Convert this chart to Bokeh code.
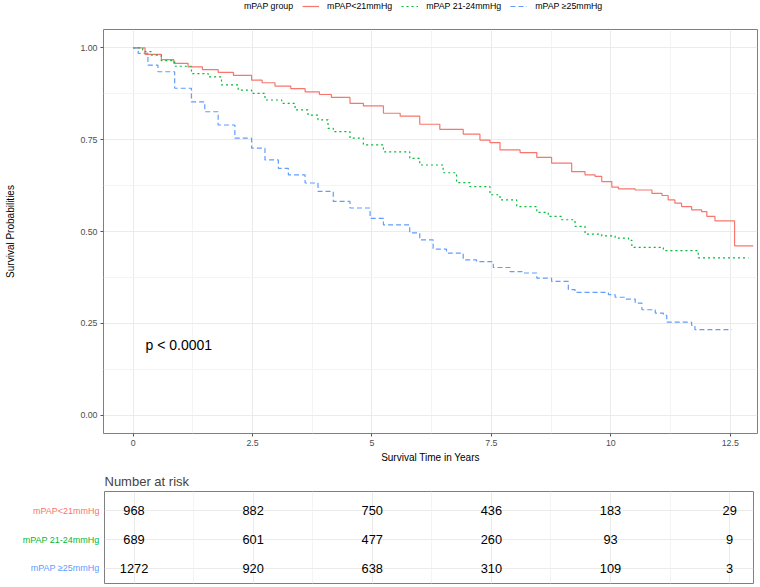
from bokeh.plotting import figure
from bokeh.models import (Range1d, FixedTicker, Legend, LegendItem, NumeralTickFormatter)
from bokeh.layouts import column, row
from bokeh.core.properties import value
from bokeh.embed import file_html
from bokeh.resources import INLINE

FONT = "Liberation Sans"
NAN = float("nan")

# ---------------- data ----------------
legend_title = "mPAP group"
groups = ["mPAP<21mmHg", "mPAP 21-24mmHg", "mPAP ≥25mmHg"]
colors = ["#F8766D", "#00BA38", "#619CFF"]
dashes = ["solid", "2 3", "5 3"]

t_low = [0, 0.25, 0.59, 0.85, 1.15, 1.45, 1.78, 2.1, 2.48, 2.7, 2.97, 3.3, 3.6, 3.9, 4.15,
         4.54, 4.82, 5.24, 5.59, 6.0, 6.42, 6.91, 7.26, 7.47, 7.68, 8.1, 8.45, 8.76, 9.18,
         9.46, 9.67, 9.81, 10.02, 10.16, 10.51, 10.86, 11.07, 11.2, 11.34, 11.48, 11.69,
         11.9, 12.01, 12.18, 12.59, 12.98]
s_low = [1.0, 0.982, 0.968, 0.958, 0.948, 0.941, 0.933, 0.925, 0.912, 0.905, 0.896, 0.889,
         0.880, 0.873, 0.865, 0.849, 0.842, 0.822, 0.814, 0.792, 0.778, 0.765, 0.749, 0.742,
         0.722, 0.715, 0.702, 0.686, 0.663, 0.654, 0.650, 0.636, 0.621, 0.616, 0.613, 0.604,
         0.598, 0.586, 0.577, 0.568, 0.559, 0.554, 0.541, 0.529, 0.461, 0.461]

t_mid = [0, 0.2, 0.385, 0.59, 0.87, 1.22, 1.57, 1.85, 2.2, 2.48, 2.76, 3.11, 3.39, 3.66,
         3.87, 4.08, 4.19, 4.54, 4.82, 5.24, 5.79, 6.0, 6.49, 6.77, 7.05, 7.47, 7.68, 8.03,
         8.45, 8.69, 8.97, 9.25, 9.46, 9.81, 10.09, 10.37, 10.44, 11.1, 11.83, 12.88]
s_mid = [1.0, 0.99, 0.980, 0.965, 0.950, 0.930, 0.921, 0.899, 0.885, 0.876, 0.858, 0.849,
         0.831, 0.817, 0.804, 0.781, 0.772, 0.754, 0.736, 0.717, 0.699, 0.681, 0.660, 0.633,
         0.622, 0.600, 0.586, 0.568, 0.552, 0.541, 0.532, 0.514, 0.493, 0.488, 0.482, 0.476,
         0.457, 0.448, 0.428, 0.428]

t_high = [0, 0.105, 0.31, 0.52, 0.87, 1.22, 1.5, 1.78, 2.13, 2.48, 2.76, 3.04, 3.25, 3.6,
          3.87, 4.19, 4.54, 4.96, 5.24, 5.79, 6.0, 6.28, 6.56, 6.91, 7.19, 7.54, 7.89, 8.17,
          8.45, 8.76, 9.11, 9.25, 9.95, 10.09, 10.30, 10.51, 10.65, 10.93, 11.1, 11.17,
          11.69, 11.76, 12.53]
s_high = [1.0, 0.985, 0.953, 0.935, 0.890, 0.853, 0.826, 0.790, 0.754, 0.727, 0.695, 0.672,
          0.654, 0.632, 0.609, 0.582, 0.564, 0.536, 0.518, 0.496, 0.477, 0.452, 0.441, 0.423,
          0.418, 0.402, 0.391, 0.387, 0.373, 0.364, 0.342, 0.334, 0.328, 0.321, 0.316, 0.305,
          0.287, 0.278, 0.272, 0.253, 0.244, 0.233, 0.233]

risk_times = [0, 2.5, 5, 7.5, 10, 12.5]
risk_low = [968, 882, 750, 436, 183, 29]
risk_mid = [689, 601, 477, 260, 93, 9]
risk_high = [1272, 920, 638, 310, 109, 3]

x_ticks = [0, 2.5, 5, 7.5, 10, 12.5]
x_minor = [1.25, 3.75, 6.25, 8.75, 11.25]
x_tick_labels = ["0", "2.5", "5", "7.5", "10", "12.5"]
y_ticks = [0, 0.25, 0.5, 0.75, 1.0]
y_minor = [0.125, 0.375, 0.625, 0.875]

pval_text = "p < 0.0001"
pval_pos = (0.26, 0.19)

curves = [(t_low, s_low), (t_mid, s_mid), (t_high, s_high)]
risks = [risk_low, risk_mid, risk_high]

BORDER = "#7F7F7F"
GRID = "#EBEBEB"
GRID_MINOR = "#F4F4F4"
LINE_W = 1.2

# ---------------- legend header ----------------
HDR_H = 14
hdr = figure(width=760, height=HDR_H, x_range=Range1d(0, 760), y_range=Range1d(0, HDR_H),
             output_backend="svg", toolbar_location=None,
             min_border_left=0, min_border_right=0, min_border_top=0, min_border_bottom=0)
hdr.outline_line_color = None
hdr.axis.visible = False
hdr.grid.visible = False
# key renderers: one undrawable (NaN) point each, used only for their legend swatches
title_r = hdr.line(x=[NAN], y=[NAN], line_alpha=0)
items = [LegendItem(label=legend_title, renderers=[title_r])]
for c, d, g in zip(colors, dashes, groups):
    kr = hdr.line(x=[NAN], y=[NAN], line_color=c, line_width=LINE_W, line_dash=d)
    items.append(LegendItem(label=g, renderers=[kr]))
legend = Legend(items=items, orientation="horizontal", location=(116, 3),
                glyph_width=17, glyph_height=10, label_height=10, label_standoff=8,
                spacing=9, padding=0, margin=0, border_line_color=None,
                background_fill_alpha=0, label_text_font=FONT, label_text_font_size="8.8px",
                label_text_color="black")
hdr.add_layout(legend, "center")

# ---------------- main plot ----------------
p = figure(width=760, height=465 - HDR_H, x_range=Range1d(-0.62, 13.07),
           y_range=Range1d(-0.05, 1.05), output_backend="svg", toolbar_location=None,
           min_border_left=103, min_border_right=3, min_border_top=29 - HDR_H,
           min_border_bottom=31)
p.outline_line_color = BORDER
p.outline_line_width = 1
p.background_fill_color = "white"

xt = FixedTicker(ticks=x_ticks, minor_ticks=x_minor)
yt = FixedTicker(ticks=y_ticks, minor_ticks=y_minor)
p.xaxis.ticker = xt
p.yaxis.ticker = yt
p.xgrid.ticker = xt
p.ygrid.ticker = yt
p.xaxis.major_label_overrides = {k: v for k, v in zip(x_ticks, x_tick_labels)}
p.yaxis.formatter = NumeralTickFormatter(format="0.00")

for g in (p.xgrid[0], p.ygrid[0]):
    g.grid_line_color = GRID
    g.grid_line_width = 1
    g.minor_grid_line_color = GRID_MINOR
    g.minor_grid_line_width = 1

for ax in (p.xaxis[0], p.yaxis[0]):
    ax.axis_line_color = None
    ax.major_tick_line_color = "#555555"
    ax.major_tick_in = 0
    ax.major_tick_out = 3
    ax.minor_tick_line_color = None
    ax.major_label_text_font = FONT
    ax.major_label_text_font_size = "8.8px"
    ax.major_label_text_color = "#4D4D4D"
    ax.axis_label_text_font = FONT
    ax.axis_label_text_font_size = "10px"
    ax.axis_label_text_font_style = "normal"
    ax.axis_label_text_color = "black"

p.xaxis.axis_label = "Survival Time in Years"
p.yaxis.axis_label = "Survival Probabilities"
p.xaxis.major_label_standoff = 2
p.xaxis.axis_label_standoff = 3
p.yaxis.major_label_standoff = 2
p.yaxis.axis_label_standoff = 61

for (tt, ss), c, d in zip(curves, colors, dashes):
    p.step(tt, ss, mode="after", line_color=c, line_width=LINE_W, line_dash=d)

p.text(x=[pval_pos[0]], y=[pval_pos[1]], text=[pval_text], text_font=value(FONT),
       text_font_size="14px", text_align="left", text_baseline="middle", text_color="black")

# ---------------- risk table ----------------
row_y = [3, 2, 1]
y_rng = (0.48, 3.66)

lab = figure(width=104, height=122, x_range=Range1d(0, 104), y_range=Range1d(*y_rng),
             output_backend="svg", toolbar_location=None,
             min_border_left=0, min_border_right=0, min_border_top=26, min_border_bottom=4)
lab.outline_line_color = None
lab.axis.visible = False
lab.grid.visible = False
for g, c, yy in zip(groups, colors, row_y):
    lab.text(x=[104], y=[yy], text=[g], text_font=value(FONT), text_font_size="9px",
             text_align="right", text_baseline="middle", text_color=c, x_offset=-5)

t = figure(width=656, height=122, x_range=Range1d(-0.62, 13.0), y_range=Range1d(*y_rng),
           output_backend="svg", toolbar_location=None, title="Number at risk",
           min_border_left=0, min_border_right=7, min_border_top=26, min_border_bottom=4)
t.title.text_font = FONT
t.title.text_font_size = "13px"
t.title.text_font_style = "normal"
t.title.standoff = 6
t.outline_line_color = BORDER
t.outline_line_width = 1
t.xaxis.visible = False
t.yaxis.visible = False
t.xgrid.ticker = xt
t.ygrid.ticker = FixedTicker(ticks=row_y)
t.xgrid.grid_line_color = GRID
t.xgrid.minor_grid_line_color = GRID_MINOR
t.ygrid.grid_line_color = GRID

for vals, yy in zip(risks, row_y):
    t.text(x=risk_times, y=[yy] * len(risk_times), text=[str(v) for v in vals],
           text_font=value(FONT), text_font_size="12.8px", text_align="center",
           text_baseline="middle", text_color="black")

layout = column(hdr, p, row(lab, t, spacing=0), spacing=0)
open("out.html", "w").write(file_html(layout, INLINE))
